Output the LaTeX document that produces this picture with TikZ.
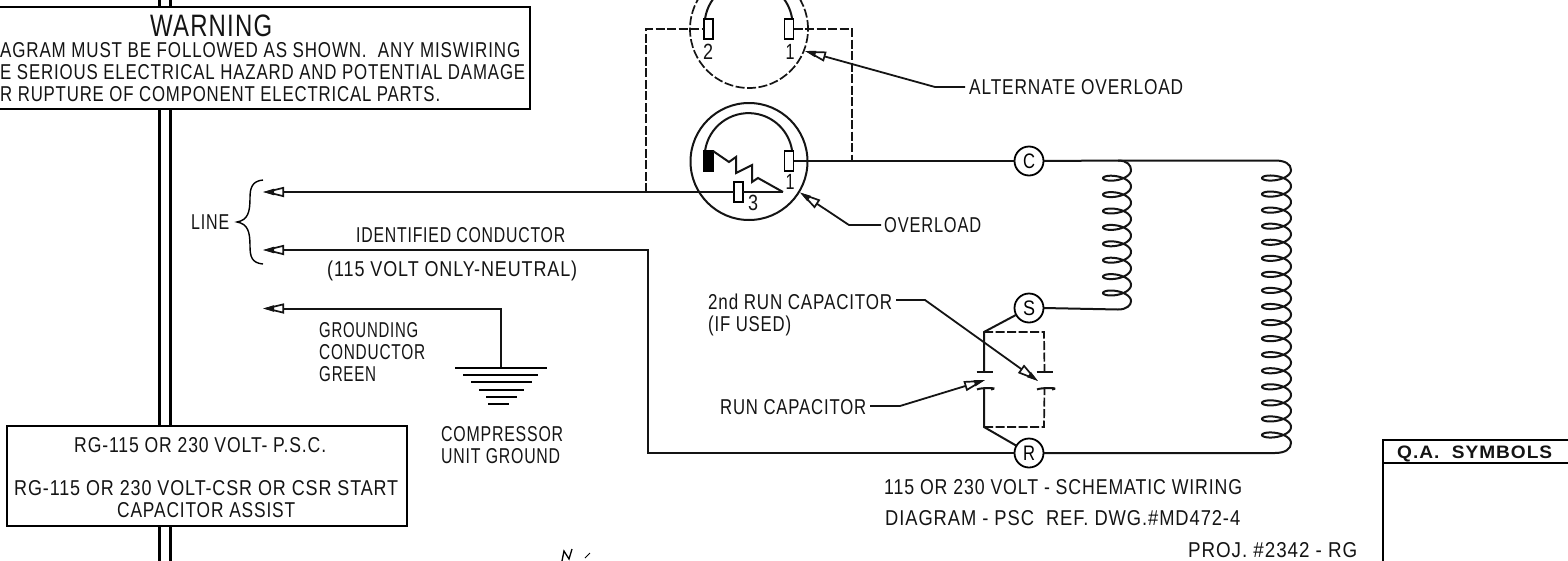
\documentclass[tikz,border=0pt]{standalone}
\usepackage{fontspec}
\usepackage{graphicx}
\setmainfont[LetterSpace=5]{Liberation Sans}
\usetikzlibrary{arrows.meta}
\newcommand\tw[2]{\resizebox{#1pt}{\height}{#2}}
\tikzset{
  wire/.style={line width=2pt,black!92},
  thin wire/.style={line width=1.8pt,black!92},
  dashwire/.style={line width=1.7pt,black!92,dash pattern=on 9pt off 2.5pt},
  arr/.style={-{Triangle[open,fill=white,length=21pt,width=10pt,sep=-11pt,line width=1.7pt]Triangle[length=11pt,width=6pt]}},
  lbl/.style={inner sep=0pt,anchor=base west,font=\fontsize{21.5}{24}\selectfont,text=black!92},
  terminal/.style={draw,line width=1.5pt,fill=white,minimum width=9pt,minimum height=20pt,inner sep=0pt,outer sep=0pt},
  tagc/.style={draw,circle,line width=1.8pt,minimum size=29pt,inner sep=0pt,outer sep=0pt,fill=white,font=\fontsize{21}{22}\selectfont},
  framebox/.style={draw,line width=2.4pt,fill=white,inner sep=0pt,outer sep=0pt},
  num/.style={inner sep=0pt,font=\fontsize{22}{24}\selectfont,text=black!92}
}
\begin{document}
\begin{tikzpicture}[x=1pt,y=-1pt]
\useasboundingbox (0,0) rectangle (1568,560);
\clip (0,0) rectangle (1568,560);
\fill[white] (0,0) rectangle (1568,560);
% rails
\coordinate (railAt) at (159.5,-5); \coordinate (railAb) at (159.5,565);
\coordinate (railBt) at (170.5,-5); \coordinate (railBb) at (170.5,565);
\draw[line width=2.4pt] (railAt) -- (railAb);
\draw[line width=2.4pt] (railBt) -- (railBb);
% warning box
\node[framebox,minimum width=540pt,minimum height=102pt] (warn) at (260,58) {};
\node[lbl,font=\fontsize{31}{32}\selectfont] (w0) at (150,36) {\tw{122}{WARNING}};
\node[lbl] (w1) at (0,57) {\tw{520}{AGRAM MUST BE FOLLOWED AS SHOWN.\ \ ANY MISWIRING}};
\node[lbl] (w2) at (0,79) {\tw{525}{E SERIOUS ELECTRICAL HAZARD AND POTENTIAL DAMAGE}};
\node[lbl] (w3) at (0,101) {\tw{440}{R RUPTURE OF COMPONENT ELECTRICAL PARTS.}};
% lower-left box
\node[framebox,minimum width=400pt,minimum height=100pt] (rgbox) at (207,476) {};
\node[lbl] (r1) at (74,452) {\tw{252}{RG-115 OR 230 VOLT- P.S.C.}};
\node[lbl] (r2) at (14,495) {\tw{384}{RG-115 OR 230 VOLT-CSR OR CSR START}};
\node[lbl] (r3) at (117,517) {\tw{178}{CAPACITOR ASSIST}};
% overload circles
\node[draw,circle,dashwire,minimum size=118pt,inner sep=0pt,outer sep=0pt] (ovA) at (749,29) {};
\node[draw,circle,wire,minimum size=117pt,inner sep=0pt,outer sep=0pt] (ovB) at (749,161.5) {};
\draw[wire] (705,19) arc[start angle=188,end angle=352,radius=44];
\draw[wire] (705,151) arc[start angle=188,end angle=352,radius=44];
\node[terminal] (t2) at (708.5,29) {};
\node[terminal] (t1a) at (789,29) {};
\node[terminal,fill=black] (tb) at (708.5,161) {};
\node[terminal] (t1) at (789,161) {};
\node[terminal] (t3) at (738.5,192) {};
\node[num] (n2) at (708,52) {\tw{10}{2}};
\node[num] (n1a) at (790,52) {\tw{9}{1}};
\node[num] (n1) at (790,182) {\tw{9}{1}};
\node[num] (n3) at (753,203) {\tw{10}{3}};
% tags
\node[tagc] (C) at (1029,161) {\tw{12}{C}};
\node[tagc] (S) at (1029,308) {\tw{12}{S}};
\node[tagc] (R) at (1029,453) {\tw{12}{R}};
% coordinates
\coordinate (jL) at (646,192);
\coordinate (jR) at (852,161);
\coordinate (tipA) at (263,192);
\coordinate (tipB) at (263,250);
\coordinate (tipC) at (263,308.5);
\coordinate (gnd) at (501,368);
\coordinate (bendB) at (648,250);
\coordinate (bendB2) at (648,453);
\coordinate (zEnd) at (783,192);
% wiring
\draw[dashwire] (jL) |- (t2.west);
\draw[dashwire] (t1a.east) -| (jR);
\draw[wire] (t1.east) -- (C.west);
\draw[wire,arr] (t3.west) -- (tipA);
\draw[wire] (t3.east) -- (zEnd);
\draw[wire] (tb.north east) -- (729,162) -- (736,157) -- (736,173) -- (752,165) -- (752,182) -- (758,178) -- (zEnd);
\draw[wire,arr] (R.west) -- (bendB2) -- (bendB) -- (tipB);
\draw[wire,arr] (gnd) |- (tipC);
% ground bars
\draw[line width=1.7pt] (gnd) ++(-46,0) coordinate (g1) -- ++(92,0);
\draw[line width=1.7pt] (463,375) -- (538,375);
\draw[line width=1.7pt] (471,382) -- (532,382);
\draw[line width=1.7pt] (479,390) -- (524,390);
\draw[line width=1.7pt] (486,397) -- (517,397);
\draw[line width=1.7pt] (488,404) -- (509,404);
% brace
\draw[line width=1.4pt] (263,180) .. controls (252,181) and (250,188) .. (250,198) .. controls (250,212) and (248,220) .. (237,222) .. controls (248,224) and (250,232) .. (250,246) .. controls (250,257) and (252,263) .. (263,264);
% coils
\draw[wire] (C.east) -- (1118,160.5) .. controls (1127,160.5) and (1131,165) .. (1131,170)
  -- plot[domain=0:2880,samples=480,variable=\x] ({1117+14*cos(\x)},{170+16.4*(\x/360)+6*sin(\x)})
  .. controls (1131,305) and (1127,309.5) .. (1118,309.5) -- (S.east);
\draw[wire] (1118,160.5) -- (1275,160.5) .. controls (1285,160.5) and (1291,164) .. (1291,170)
  -- plot[domain=0:6120,samples=1000,variable=\x] ({1276.5+14.5*cos(\x)},{170+16.06*(\x/360)+6*sin(\x)})
  .. controls (1291,449) and (1285,453) .. (1275,453) -- (R.east);
% capacitors
\coordinate (capTL) at (984,332);
\coordinate (capTR) at (1044,332);
\coordinate (capBL) at (984,427);
\coordinate (capBR) at (1044,427);
\coordinate (p1) at (984,372);
\coordinate (p2) at (1044.5,372);
\coordinate (q1) at (984,388);
\coordinate (q2) at (1044.5,388);
\draw[wire] (S) -- (capTL) -- (p1);
\draw[wire] (R) -- (capBL) -- (q1);
\draw[dashwire] (capTL) -- (capTR) -- (p2);
\draw[dashwire] (capBL) -- (capBR) -- (q2);
\draw[wire] (p1) ++(-7.5,0) -- ++(16,0);
\draw[wire] (p2) ++(-8,0) -- ++(16,0);
\draw[wire] (q1) ++(-7,1.5) .. controls ++(3,-2) and ++(10,-2) .. ++(14,0);
\draw[wire] (q2) ++(-7.5,1.5) .. controls ++(3,-2) and ++(10,-2) .. ++(15,0);
% labels
\node[lbl] (lLine) at (191,229) {\tw{38}{LINE}};
\node[lbl] (lId) at (356,242) {\tw{209}{IDENTIFIED CONDUCTOR}};
\node[lbl] (lNeu) at (327,276) {\tw{250}{(115 VOLT ONLY-NEUTRAL)}};
\node[lbl] (lG1) at (319,337) {\tw{99}{GROUNDING}};
\node[lbl] (lG2) at (319,359) {\tw{106}{CONDUCTOR}};
\node[lbl] (lG3) at (319,381) {\tw{57}{GREEN}};
\node[lbl] (lC1) at (441,441) {\tw{122}{COMPRESSOR}};
\node[lbl] (lC2) at (441,463) {\tw{119}{UNIT GROUND}};
\node[lbl] (lAlt) at (969,94) {\tw{214}{ALTERNATE OVERLOAD}};
\node[lbl] (lOv) at (884,232) {\tw{97}{OVERLOAD}};
\node[lbl] (l2nd) at (708,309) {\tw{184}{2nd RUN CAPACITOR}};
\node[lbl] (lIf) at (708,331) {\tw{83}{(IF USED)}};
\node[lbl] (lRun) at (720,414) {\tw{146}{RUN CAPACITOR}};
\node[lbl] (lS1) at (884,494) {\tw{358}{115 OR 230 VOLT - SCHEMATIC WIRING}};
\node[lbl] (lS2) at (885,525) {\tw{355}{DIAGRAM - PSC\ \ REF. DWG.\#MD472-4}};
\node[lbl] (lP) at (1188,557) {\tw{169}{PROJ. \#2342 - RG}};
% leaders
\coordinate (aEl) at (935,87); \coordinate (aTip) at (805,51);
\coordinate (oEl) at (849,225); \coordinate (oTip) at (800,192.5);
\coordinate (sEl) at (925,300); \coordinate (sTip) at (1038,381);
\coordinate (rEl) at (900,406); \coordinate (rTip) at (985,380);
\draw[thin wire,arr] (lAlt.west |- aEl) ++(-4,0) -- (aEl) -- (aTip);
\draw[thin wire,arr] (881,225) -- (oEl) -- (oTip);
\draw[thin wire,arr] (896,300) -- (sEl) -- (sTip);
\draw[thin wire,arr] (870,406) -- (rEl) -- (rTip);
% Q.A. box
\coordinate (qaTL) at (1383,440);
\draw[line width=2.4pt] (1383,565) -- (qaTL) -- (1575,440);
\draw[line width=2.4pt] (1383,463) -- (1575,463);
\node[lbl,font=\bfseries\fontsize{18}{20}\selectfont] (qa) at (1397,458) {\tw{155}{Q.A.\ \ SYMBOLS}};
% handwritten mark
\draw[line width=1.3pt] (562,561) -- (564,551) -- (569,559) -- (572,549);
\draw[line width=1pt] (590,553) -- (585,558);
\end{tikzpicture}
\end{document}
